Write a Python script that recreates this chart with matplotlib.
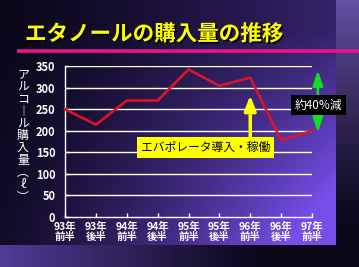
import numpy as np
import matplotlib
matplotlib.use("Agg")
import matplotlib.pyplot as plt
import matplotlib.patheffects as pe

plt.rcParams['font.family'] = ['Noto Sans CJK JP', 'DejaVu Sans']

# ---- data ----
periods = ["93年\n前半", "93年\n後半", "94年\n前半", "94年\n後半", "95年\n前半",
           "95年\n後半", "96年\n前半", "96年\n後半", "97年\n前半"]
purchase = [250, 214, 270, 270, 342, 304, 323, 178, 200]
yticks = [0, 50, 100, 150, 200, 250, 300, 350]
title = "エタノールの購入量の推移"
ylabel_chars = ["ア", "ル", "コ", "︱", "ル", "購", "入", "量", "︵", "ℓ", "︶"]
note_evap = "エバポレータ導入・稼働"
note_reduce = "約40%減"

W, H = 359, 267
fig = plt.figure(figsize=(W / 100, H / 100), dpi=100)

# ---- background ----
bg = fig.add_axes([0, 0, 1, 1])
yy, xx = np.mgrid[0:H, 0:W].astype(float)
dark = np.array([10, 6, 24]) / 255.0
bright = np.array([118, 78, 232]) / 255.0
img = np.zeros((H, W, 3))
t = np.clip(xx / 336.0, 0, 1)
s = np.clip((yy - 30) / 215.0, 0, 1)
w = (t ** 1.4) * (0.25 + 0.75 * s)
w = np.clip(w + 0.15 * t + 0.08 * s, 0, 1)
img[:] = dark + w[..., None] * (bright - dark)
# right strip
rs = xx >= 336
wr = np.clip(1 - yy / 230.0, 0, 1) ** 1.2
right_col = np.array([100, 80, 165]) / 255.0
img[rs] = (dark + wr[..., None] * (right_col - dark))[rs]
# bottom strip
bs = (yy >= 245) & (xx < 336)
wb = np.clip(1 - xx / 260.0, 0, 1)
bot_col = np.array([80, 60, 150]) / 255.0
img[bs] = (dark + wb[..., None] * (bot_col - dark))[bs]
bg.imshow(img, extent=[0, W, H, 0], aspect='auto', interpolation='bilinear')
bg.set_xlim(0, W)
bg.set_ylim(H, 0)
bg.axis('off')

# title and magenta rule
fig.text(25 / W, 1 - 34 / H, title, color='#ffff00', fontsize=15.5,
         fontweight='bold', va='center', ha='left',
         path_effects=[pe.withSimplePatchShadow(offset=(1.2, -1.2),
                                                shadow_rgbFace='black', alpha=0.9)])
bg.plot([17, 359], [51, 51], color='#e8148c', lw=2.6, solid_capstyle='butt')

# ---- chart ----
ax = fig.add_axes([65 / W, (H - 217) / H, (312 - 65) / W, (217 - 66) / H])
ax.patch.set_alpha(0)
x = np.arange(len(periods))
for v in yticks[1:]:
    ax.axhline(v, color='white', lw=1.0, zorder=1)
ax.plot(x, purchase, color='#dc1428', lw=1.9, zorder=3, clip_on=False)
ax.set_xlim(0, len(periods) - 1)
ax.set_ylim(0, 350)
ax.set_yticks(yticks)
ax.set_xticks(x)
ax.set_xticklabels(periods, color='white', fontsize=7.5, fontweight='bold',
                   linespacing=1.0)
ax.set_yticklabels([str(v) for v in yticks], color='white', fontsize=8.0,
                   fontweight='bold')
ax.tick_params(axis='both', direction='in', color='white', length=3, width=1)
ax.tick_params(axis='y', pad=7)
ax.tick_params(axis='x', pad=3.5)
for sp in ['top', 'right']:
    ax.spines[sp].set_visible(False)
for sp in ['left', 'bottom']:
    ax.spines[sp].set_color('white')
    ax.spines[sp].set_linewidth(1.0)

# yellow annotation
ax.annotate('', xy=(6.0, 282), xytext=(6.0, 180),
            arrowprops=dict(arrowstyle='-|>,head_length=0.9,head_width=0.35',
                            color='#ffff00', lw=2.5, shrinkA=0, shrinkB=0),
            annotation_clip=False, zorder=4)
ax.text(4.55, 161, note_evap, ha='center', va='center', fontsize=8.5,
        color='black', zorder=5,
        bbox=dict(boxstyle='square,pad=0.32', fc='#ffff00', ec='none'))

# green double arrow
ax.annotate('', xy=(8.19, 340), xytext=(8.19, 196),
            arrowprops=dict(arrowstyle='<|-|>,head_length=0.9,head_width=0.3',
                            color='#10e020', lw=1.8, shrinkA=0, shrinkB=0),
            annotation_clip=False, zorder=4)
ax.text(8.21, 259, note_reduce, ha='center', va='center', fontsize=8.5,
        color='white', zorder=5, clip_on=False,
        bbox=dict(boxstyle='square,pad=0.3', fc='black', ec='none'))

# vertical y label (stacked characters, one text)
fig.text(23 / W, 1 - 136 / H, "\n".join(ylabel_chars), color='white',
         fontsize=8.6, ha='center', va='center', linespacing=0.92,
         multialignment='center')

fig.savefig('out.png', dpi=100)
